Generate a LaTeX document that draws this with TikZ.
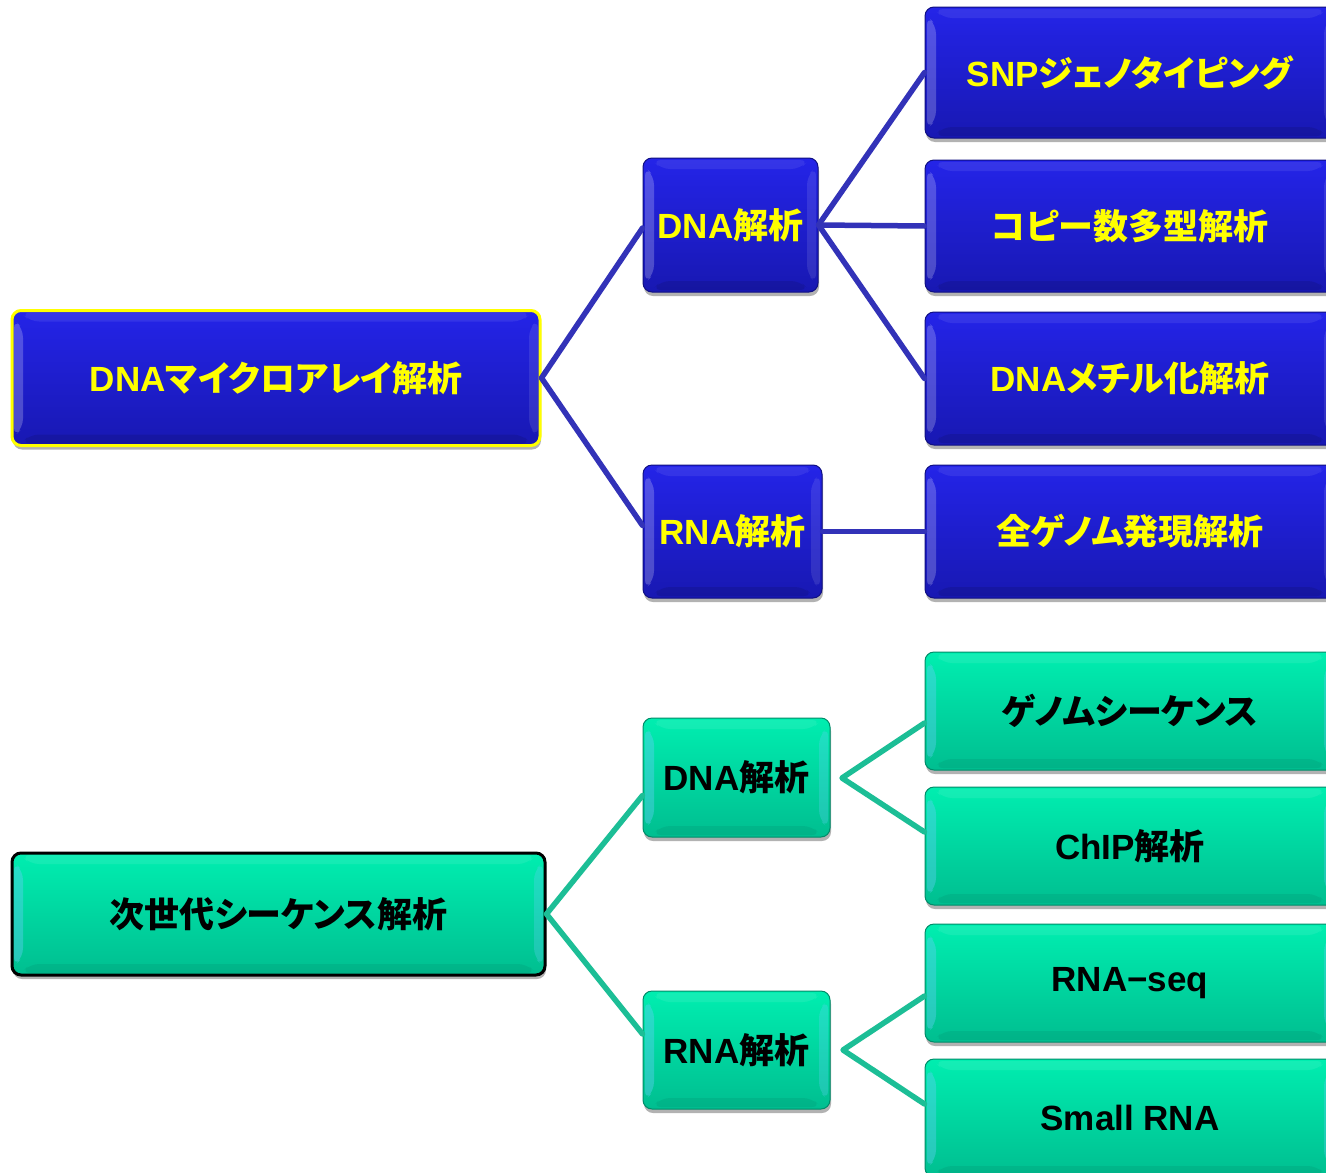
\documentclass[tikz,border=0pt]{standalone}
\usepackage{fontspec}
\setmainfont{Noto Sans CJK JP}[RawFeature=+palt]
\newfontfamily\lat{Liberation Sans}
\usetikzlibrary{shadows}
\definecolor{bluetop}{RGB}{36,36,232}
\definecolor{bluebot}{RGB}{24,24,178}
\definecolor{blueline}{RGB}{50,50,184}
\definecolor{blueedge}{RGB}{16,16,130}
\definecolor{greentop}{RGB}{0,238,176}
\definecolor{greenbot}{RGB}{0,190,144}
\definecolor{greenline}{RGB}{28,190,150}
\definecolor{greenedge}{RGB}{0,140,105}
\definecolor{txtyellow}{RGB}{255,255,0}
\begin{document}
\begin{tikzpicture}[x=1pt,y=-1pt,
  bevel/.style n args={3}{path picture={
    \fill[#1] ([shift={(2pt,-9pt)}]path picture bounding box.north west) -- ([shift={(11pt,-18pt)}]path picture bounding box.north west)
      -- ([shift={(11pt,18pt)}]path picture bounding box.south west) -- ([shift={(2pt,9pt)}]path picture bounding box.south west) -- cycle;
    \fill[#2] ([shift={(-2pt,-9pt)}]path picture bounding box.north east) -- ([shift={(-11pt,-18pt)}]path picture bounding box.north east)
      -- ([shift={(-11pt,18pt)}]path picture bounding box.south east) -- ([shift={(-2pt,9pt)}]path picture bounding box.south east) -- cycle;
    \fill[white,opacity=0.08] ([shift={(9pt,-2pt)}]path picture bounding box.north west) -- ([shift={(-9pt,-2pt)}]path picture bounding box.north east)
      -- ([shift={(-18pt,-11pt)}]path picture bounding box.north east) -- ([shift={(18pt,-11pt)}]path picture bounding box.north west) -- cycle;
    \fill[#3] ([shift={(9pt,2pt)}]path picture bounding box.south west) -- ([shift={(-9pt,2pt)}]path picture bounding box.south east)
      -- ([shift={(-18pt,11pt)}]path picture bounding box.south east) -- ([shift={(18pt,11pt)}]path picture bounding box.south west) -- cycle;
  }},
  boxbase/.style={rounded corners=9pt, inner sep=0pt, align=center,
    font=\fontsize{35}{40}\selectfont\bfseries,
    drop shadow={shadow xshift=1pt, shadow yshift=-4pt, opacity=0.3, fill=black}},
  bluebox/.style={boxbase, top color=bluetop, bottom color=bluebot, draw=blueedge, line width=1pt,
    text=txtyellow, bevel={white,opacity=0.22}{white,opacity=0.1}{black,opacity=0.1}},
  greenbox/.style={boxbase, top color=greentop, bottom color=greenbot, draw=greenedge, line width=1pt,
    text=black, bevel={cyan!60!white,opacity=0.4}{cyan!60!white,opacity=0.3}{black,opacity=0.06}},
  blueconn/.style={draw=blueline, line width=5.5pt, line cap=round, line join=round},
  greenconn/.style={draw=greenline, line width=5.5pt, line cap=round, line join=round}
]
\useasboundingbox (0,0) rectangle (1326,1173);
\clip (0,0) rectangle (1326,1173);
\fill[white] (0,0) rectangle (1326,1173);

% free ends of the lower connectors
\coordinate (d2j) at (842,778);
\coordinate (n2j) at (843,1050);

% ---- upper tree (DNA microarray) ----
\node[bluebox, minimum width=528pt, minimum height=135pt, draw=txtyellow, line width=3pt] (root1) at (276,378) {{\lat DNA}マイクロアレイ解析};
\node[bluebox, minimum width=175pt, minimum height=134pt] (dna1) at (730.5,225) {{\lat DNA}解析};
\node[bluebox, minimum width=179pt, minimum height=133pt] (rna1) at (732.5,531.5) {{\lat RNA}解析};
\node[bluebox, minimum width=410pt, minimum height=131pt] (snp) at (1130,72.5) {{\lat SNP}ジェノタイピング};
\node[bluebox, minimum width=410pt, minimum height=132pt] (cnv) at (1130,226) {コピー数多型解析};
\node[bluebox, minimum width=410pt, minimum height=133pt] (meth) at (1130,378.5) {{\lat DNA}メチル化解析};
\node[bluebox, minimum width=410pt, minimum height=133pt] (wge) at (1130,531.5) {全ゲノム発現解析};

% ---- lower tree (NGS) ----
\node[greenbox, minimum width=533pt, minimum height=122pt, draw=black, line width=3pt] (root2) at (278.5,914) {次世代シーケンス解析};
\node[greenbox, minimum width=187pt, minimum height=119pt] (dna2) at (736.5,777.5) {{\lat DNA}解析};
\node[greenbox, minimum width=187pt, minimum height=118pt] (rna2) at (736.5,1050) {{\lat RNA}解析};
\node[greenbox, minimum width=410pt, minimum height=118pt] (gen) at (1130,711) {ゲノムシーケンス};
\node[greenbox, minimum width=410pt, minimum height=118pt] (chip) at (1130,846) {{\lat ChIP}解析};
\node[greenbox, minimum width=410pt, minimum height=118pt] (rseq) at (1130,983) {{\lat RNA−seq}};
\node[greenbox, minimum width=410pt, minimum height=118pt] (small) at (1130,1118) {{\lat Small RNA}};

% ---- connectors ----
\draw[blueconn] ([yshift=-3pt]dna1.west) -- (root1.east) -- ([yshift=6pt]rna1.west);
\draw[blueconn] (snp.west) -- (dna1.east) -- (meth.west);
\draw[blueconn] (dna1.east) -- (cnv.west);
\draw[blueconn] (rna1.east) -- (wge.west);
\draw[greenconn] ([yshift=-18pt]dna2.west) -- (root2.east) -- ([yshift=16pt]rna2.west);
\draw[greenconn] ([yshift=-12pt]gen.west) -- (d2j) -- ([yshift=14pt]chip.west);
\draw[greenconn] ([yshift=-13pt]rseq.west) -- (n2j) -- ([yshift=14pt]small.west);
\end{tikzpicture}
\end{document}
